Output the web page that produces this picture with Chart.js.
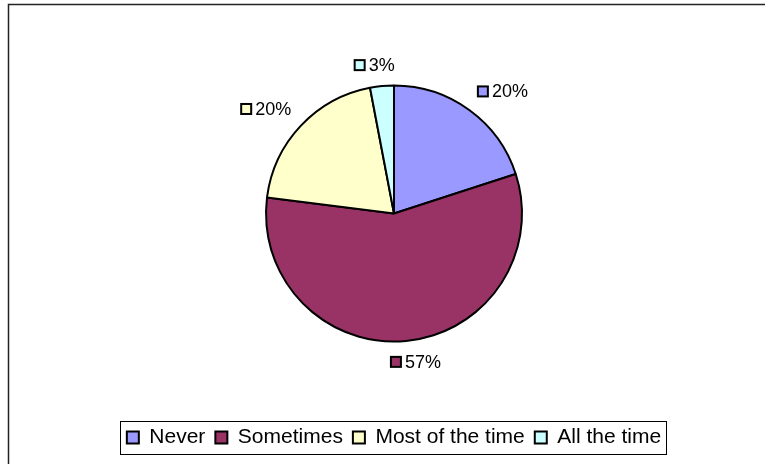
<!DOCTYPE html>
<html>
<head>
<meta charset="utf-8">
<script src="https://cdn.jsdelivr.net/npm/chart.js@4"></script>
<style>
  html, body { margin: 0; padding: 0; background: #fff; }
  #wrap { width: 765px; height: 464px; }
</style>
</head>
<body>
<div id="wrap"><canvas id="pieChart" width="765" height="464"></canvas></div>
<script>
  const labels = ['Never', 'Sometimes', 'Most of the time', 'All the time'];
  const values = [20, 57, 20, 3];
  const colors = ['#9999FF', '#993366', '#FFFFCC', '#CCFFFF'];

  const FONT = '"Liberation Sans", Arial, sans-serif';

  // frame round the chart (only left and top show in the picture)
  const framePlugin = {
    id: 'frame',
    beforeDraw(chart) {
      const ctx = chart.ctx;
      ctx.save();
      ctx.fillStyle = '#fff';
      ctx.fillRect(0, 0, chart.width, chart.height);
      ctx.strokeStyle = '#222';
      ctx.lineWidth = 1.5;
      ctx.strokeRect(8.5, 4.5, chart.width + 20, chart.height + 20);
      ctx.restore();
    }
  };

  // box round the legend
  const legendBoxPlugin = {
    id: 'legendBox',
    afterDraw(chart) {
      const boxes = chart.legend.legendHitBoxes;
      if (!boxes || !boxes.length) return;
      let l = Infinity, r = -Infinity, t = Infinity, b = -Infinity;
      boxes.forEach(h => {
        l = Math.min(l, h.left); r = Math.max(r, h.left + h.width);
        t = Math.min(t, h.top); b = Math.max(b, h.top + h.height);
      });
      const ctx = chart.ctx;
      ctx.save();
      ctx.strokeStyle = '#000';
      ctx.lineWidth = 1;
      ctx.strokeRect(Math.round(l - 7) + 0.5, Math.round(t - 6) + 0.5, Math.round(r - l + 12), Math.round(b - t + 12));
      ctx.restore();
    }
  };

  // percentage labels outside the slices, with a small colour key
  const pctLabelPlugin = {
    id: 'pctLabels',
    afterDatasetsDraw(chart) {
      const ctx = chart.ctx;
      const meta = chart.getDatasetMeta(0);
      const total = values.reduce((a, b) => a + b, 0);
      ctx.save();
      ctx.font = '18px ' + FONT;
      ctx.textBaseline = 'middle';
      ctx.textAlign = 'left';
      meta.data.forEach((arc, i) => {
        const p = arc.getProps(['x', 'y', 'startAngle', 'endAngle', 'outerRadius'], true);
        const mid = (p.startAngle + p.endAngle) / 2;
        const dist = p.outerRadius + 13;
        const ax = p.x + Math.cos(mid) * dist;
        const ay = p.y + Math.sin(mid) * dist;
        const txt = Math.round(values[i] / total * 100) + '%';
        const tw = ctx.measureText(txt).width;
        const mk = 10, gap = 3;
        const w = mk + 2 + gap + tw, h = 16;
        const f = Math.min(1, Math.max(0, 0.5 - 1.7 * Math.cos(mid)));
        const g = Math.min(1, Math.max(0, 0.5 - 1.7 * Math.sin(mid)));
        const left = ax - w * f;
        const top = ay - h * g;
        const cy = top + h / 2;
        ctx.fillStyle = colors[i];
        ctx.fillRect(left + 1, cy - mk / 2, mk, mk);
        ctx.strokeStyle = '#000';
        ctx.lineWidth = 2;
        ctx.strokeRect(left + 1, cy - mk / 2, mk, mk);
        ctx.fillStyle = '#000';
        ctx.fillText(txt, left + mk + 2 + gap, cy + 1);
      });
      ctx.restore();
    }
  };

  const data = {
    labels: labels,
    datasets: [{
      data: values,
      backgroundColor: colors,
      borderColor: '#000',
      borderWidth: 2,
      radius: 128,
      hoverOffset: 0
    }]
  };

  const config = {
    type: 'pie',
    data: data,
    options: {
      responsive: false,
      animation: false,
      layout: { padding: { top: 10, bottom: 6, left: 23, right: 0 } },
      plugins: {
        tooltip: { enabled: false },
        legend: {
          position: 'bottom',
          labels: {
            color: '#000',
            font: { family: FONT, size: 21 },
            boxWidth: 12,
            boxHeight: 12,
            padding: 10
          }
        }
      }
    },
    plugins: [framePlugin, legendBoxPlugin, pctLabelPlugin]
  };

  var myChart = new Chart(
    document.getElementById('pieChart'),
    config
  );
</script>
</body>
</html>
